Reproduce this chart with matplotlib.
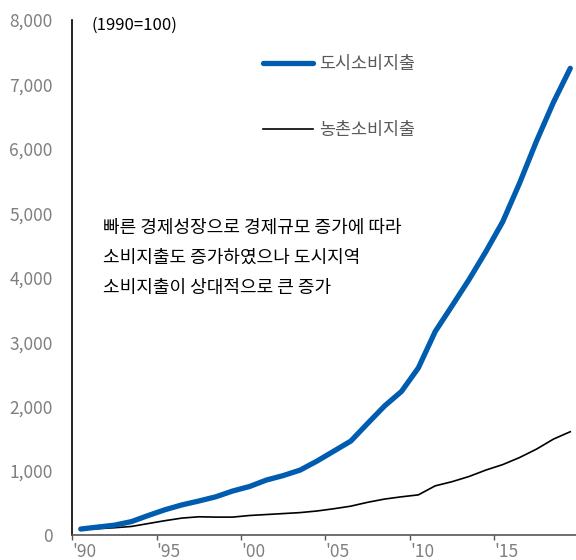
import matplotlib
matplotlib.use("Agg")
import matplotlib.pyplot as plt
from matplotlib.lines import Line2D
import numpy as np

plt.rcParams['font.family'] = ['Noto Sans CJK KR', 'DejaVu Sans']

years = list(range(1990, 2020))
urban = [100, 130, 160, 215, 310, 400, 475, 535, 600, 690,
         760, 860, 930, 1015, 1155, 1310, 1465, 1740, 2010, 2235,
         2600, 3165, 3565, 3970, 4405, 4870, 5470, 6120, 6720, 7250]
rural = [100, 105, 120, 140, 185, 230, 270, 290, 285, 285,
         310, 325, 340, 355, 380, 415, 455, 515, 565, 600,
         630, 770, 835, 915, 1015, 1100, 1210, 1340, 1495, 1610]
series_labels = ['도시소비지출', '농촌소비지출']
yticks = [0, 1000, 2000, 3000, 4000, 5000, 6000, 7000, 8000]
xtick_years = [1990, 1995, 2000, 2005, 2010, 2015]
xtick_labels = ["'90", "'95", "'00", "'05", "'10", "'15"]
base_note = '(1990=100)'
comment_lines = ['빠른 경제성장으로 경제규모 증가에 따라',
                 '소비지출도 증가하였으나 도시지역',
                 '소비지출이 상대적으로 큰 증가']

BLUE = '#005CAF'
GRAY = '#7F7F7F'

fig = plt.figure(figsize=(5.76, 5.60), dpi=100)
ax = fig.add_axes([0.1255, 0.0438, 0.8745, 0.9205])

# annual values are centred within each year's span
xpos = np.array(years) + 0.5
ax.plot(xpos, urban, color=BLUE, lw=3.8, solid_capstyle='round', zorder=3)
ax.plot(xpos, rural, color='black', lw=1.2, zorder=2)

ax.set_xlim(1990, 2019.84)
ax.set_ylim(0, 8000)

ax.set_yticks(yticks)
ax.set_yticklabels([f'{v:,}' for v in yticks])
ax.tick_params(axis='y', length=0, pad=14, labelsize=12.5, labelcolor=GRAY)

ax.set_xticks(xtick_years)
ax.set_xticklabels(xtick_labels)
ax.tick_params(axis='x', length=3.5, width=1, color='#555555', pad=2,
               labelsize=12.5, labelcolor=GRAY)
for lbl in ax.get_xticklabels():
    lbl.set_horizontalalignment('left')

for s in ['top', 'right']:
    ax.spines[s].set_visible(False)
ax.spines['left'].set_color('black')
ax.spines['left'].set_linewidth(1.2)
ax.spines['bottom'].set_color('#555555')
ax.spines['bottom'].set_linewidth(1.2)

ax.text(0.038, 0.99, base_note, transform=ax.transAxes, fontsize=12,
        color='black', ha='left', va='center')

handles = [Line2D([], [], color=BLUE, lw=3.8, solid_capstyle='round'),
           Line2D([], [], color='black', lw=1.2)]
leg = ax.legend(handles, series_labels, loc='upper left',
                bbox_to_anchor=(0.365, 0.945), frameon=False,
                fontsize=12.5, handlelength=2.9, handletextpad=0.3,
                labelspacing=2.75, borderaxespad=0)
for t in leg.get_texts():
    t.set_color('#595959')

for i, line in enumerate(comment_lines):
    fig.text(103 / 576, 1 - (228 + 30 * i) / 560, line, fontsize=13,
             color='black', ha='left', va='center')

fig.savefig('out.png', dpi=100)
